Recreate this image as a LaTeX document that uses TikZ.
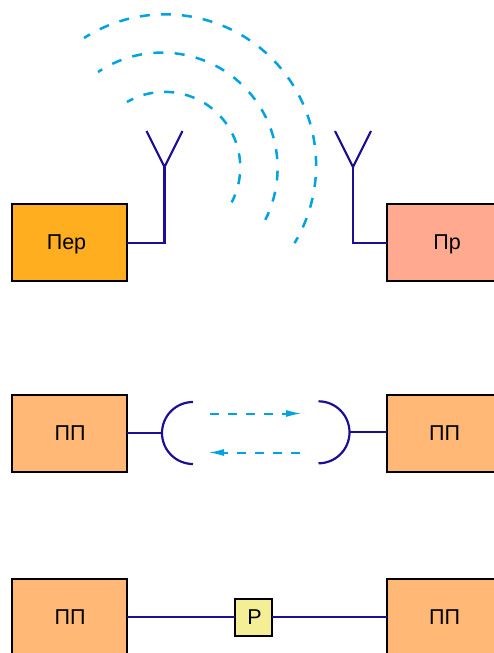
\documentclass[tikz,border=0pt]{standalone}
\usepackage{fontspec}
\setmainfont{Liberation Sans}
\usetikzlibrary{positioning, arrows.meta}
\definecolor{wirenavy}{HTML}{1A0F96}
\definecolor{wavecyan}{HTML}{00A3E0}
\definecolor{peroran}{HTML}{FFAE1F}
\definecolor{prsalmon}{HTML}{FFA990}
\definecolor{pppeach}{HTML}{FFB876}
\definecolor{relyellow}{HTML}{F4EE95}
\tikzset{
    block/.style={draw=black, line width=2pt, outer sep=0pt, minimum width=115pt,
        minimum height=77pt, inner sep=0pt, text height=15pt, text depth=0pt,
        font=\fontsize{21.5}{24}\selectfont},
    wire/.style={draw=wirenavy, line width=2.2pt},
    wave/.style={draw=wavecyan, line width=2.5pt},
    link/.style={draw=wavecyan, line width=2pt, dash pattern=on 9pt off 9pt,
        -{Latex[length=16pt, width=7pt]}}
}

\begin{document}
\begin{tikzpicture}[x=1pt, y=-1pt]
\useasboundingbox (0,0) rectangle (493,653);
\node[block, fill=peroran] (per) at (69.5,242.3) {\hspace*{-6pt}Пер};
\node[block, fill=prsalmon, right=260pt of per] (pr) {\hspace*{5pt}Пр};
\node[block, fill=pppeach, below=114pt of per] (ppa) {\hspace*{1pt}ПП};
\node[block, fill=pppeach, right=260pt of ppa] (ppb) {ПП};
\node[block, fill=pppeach, below=107pt of ppa] (ppc) {\hspace*{1pt}ПП};
\node[block, fill=pppeach, right=260pt of ppc] (ppd) {ПП};
\node[draw=black, line width=2pt, fill=relyellow, outer sep=0pt, minimum size=37pt,
    inner sep=0pt, text height=15pt, text depth=0pt, font=\fontsize{21.5}{24}\selectfont]
    (rel) at (253.5,0 |- ppc) {\hspace*{2pt}Р};

\coordinate (perbase) at (164.5,167);
\coordinate (perleft) at (146.5,131);
\coordinate (perright) at (182.5,131);
\coordinate (prbase) at (353,167);
\coordinate (prleft) at (335,131);
\coordinate (prright) at (371,131);
\draw[wire] ([yshift=-1pt]per.east) -| (perbase);
\draw[wire] (perleft) -- (perbase) -- (perright);
\draw[wire] ([yshift=-1pt]pr.west) -| (prbase);
\draw[wire] (prleft) -- (prbase) -- (prright);

\draw[wave, dash pattern=on 10pt off 11.1pt, dash phase=3pt]
    (84,38) arc[start angle=-122.5, end angle=31, radius=151];
\draw[wave, dash pattern=on 10pt off 11.4pt, dash phase=5pt]
    (98,72) arc[start angle=-123.7, end angle=26.6, radius=115.5];
\draw[wave, dash pattern=on 10pt off 11pt, dash phase=3pt]
    (127,102) arc[start angle=-120, end angle=27.6, radius=75.5];

\coordinate (dishleft) at (162,0 |- ppa);
\coordinate (dishright) at (350,432.3);
\draw[wire] (ppa.east) -- (dishleft);
\draw[wire] (ppb.west |- dishright) -- (dishright);
\draw[wire] (193,402) arc[start angle=-90, end angle=-270, radius=31];
\draw[wire] (318.5,401.3) arc[start angle=-90, end angle=90, radius=31];
\coordinate (upstart) at (210,413.5);
\coordinate (upend) at (302,413.5);
\coordinate (downstart) at (300,452.5);
\coordinate (downend) at (208,452.5);
\draw[link] (upstart) -- (upend);
\draw[link] (downstart) -- (downend);

\draw[wire] (ppc.east) -- (rel.west);
\draw[wire] (rel.east) -- (ppd.west);
\end{tikzpicture}
\end{document}
